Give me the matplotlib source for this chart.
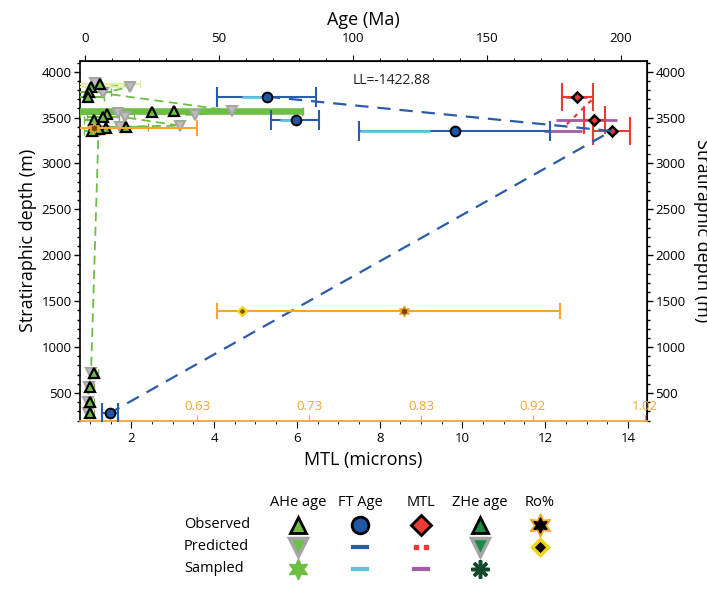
import numpy as np
import matplotlib.pyplot as plt
from matplotlib.ticker import MultipleLocator, FixedLocator

plt.rcParams["font.family"] = ["Open Sans", "DejaVu Sans"]

# ── data ────────────────────────────────────────────────────
# AHe observed ages (Ma) and depths (m)
ahe_obs_age = [5.6, 2.2, 1.6, 1.2, 24.9, 33.3, 8.1, 6.6, 3.4, 15.3, 7.8, 5.0, 2.5, 3.4, 1.9, 1.9, 1.9]
ahe_obs_depth = [3866, 3837, 3782, 3728, 3558, 3575, 3536, 3503, 3474, 3401, 3383, 3372, 3357, 718, 565, 402, 283]
ahe_obs_err = [15, 14, 8, 6, 56, 48, 10, 6, 4, 8, 5, 4, 3, 1.5, 1.5, 1.5, 1.5]
ahe_pale = [True, True, False, False, False, False, False, False, False, False, False, False, False,
            False, False, False, False]
ahe_thick = [False, False, False, False, True, True, False, False, False, False, False, False, False,
             False, False, False, False]

# AHe predicted (profile order)
ahe_pred_age = [3.7, 16.8, 6.6, 54.7, 41.0, 12.4, 14.7, 35.4, 13.0, 5.0, 2.2, 1.3, 1.2, 1.1]
ahe_pred_depth = [3880, 3837, 3765, 3575, 3528, 3555, 3503, 3412, 3401, 3357, 718, 565, 402, 283]

# Fission track ages
ft_obs_age = [67.8, 78.6, 138.0, 9.3]
ft_obs_depth = [3728, 3474, 3354, 283]
ft_err_lo = [18.4, 9.2, 35.6, 3.0]
ft_err_hi = [18.4, 8.8, 35.5, 3.0]
ft_samp_lo = [58.5, 72.8, 102.6]
ft_samp_hi = [67.8, 79.0, 128.7]
ft_samp_depth = [3728, 3474, 3354]
ft_pred_age = [67.8, 196.5, 9.3]
ft_pred_depth = [3728, 3354, 283]

# Mean track length (microns)
mtl_obs = [12.76, 13.19, 13.61]
mtl_depth = [3728, 3474, 3357]
mtl_err_lo = [0.36, 0.25, 0.46]
mtl_err_hi = [0.40, 0.25, 0.44]
mtl_samp_lo = [12.50, 12.26, 11.97]
mtl_samp_hi = [13.00, 13.73, 12.90]
mtl_pred = [13.12, 12.45]
mtl_pred_depth = [3690, 3395]

# Vitrinite reflectance
ro_obs = [0.81, 0.54]
ro_depth = [1393, 3386]
ro_err_lo = [0.163, 0.05]
ro_err_hi = [0.136, 0.09]
ro_pred = [0.669]
ro_pred_depth = [1393]
ro_ticks = [0.63, 0.7275, 0.825, 0.9225, 1.02]
ro_ticklabels = ["0.63", "0.73", "0.83", "0.92", "1.02"]

ll_text = "LL=-1422.88"

# ── colours ─────────────────────────────────────────────────
GREEN = "#6DBE45"
PALE = "#E4EFA6"
GREY = "#A5A5A5"
BLUE = "#1F56A5"
DBLUE = "#2A5CAA"
CYAN = "#5BC6DE"
RED = "#EE3A36"
PURPLE = "#A35DA8"
ORANGE = "#F7A532"
YELLOW = "#F6D313"
ZGREEN = "#1A8A47"
ZDARK = "#12492B"

fig = plt.figure(figsize=(7.07, 5.92), dpi=100)
ax = fig.add_axes([0.1132, 0.2889, 0.8019, 0.6086])   # MTL (bottom) + depth
ax_age = ax.twiny()                                    # Age (top)
ax_ro = ax.twiny()                                     # Ro% (bottom, inside)

ylim = (195, 4120)
ax.set_ylim(*ylim)
ax.set_xlim(0.76, 14.46)
ax_age.set_xlim(-1.9, 209.7)
ax_ro.set_xlim(0.528, 1.022)

# ── AHe ─────────────────────────────────────────────────────
ax_age.plot(ahe_pred_age, ahe_pred_depth, ls=(0, (5, 3)), color=GREEN, lw=1.3, zorder=2)
for a, d, e, pale, thick in zip(ahe_obs_age, ahe_obs_depth, ahe_obs_err, ahe_pale, ahe_thick):
    ax_age.errorbar(a, d, xerr=e, fmt="none", ecolor=PALE if pale else GREEN,
                    elinewidth=4 if thick else 1.5, capsize=3, zorder=3)
ax_age.plot(ahe_pred_age, ahe_pred_depth, ls="none", marker="v", ms=7,
            mfc="#BDBDBD", mec=GREY, mew=1.5, zorder=4)
ax_age.plot(ahe_obs_age, ahe_obs_depth, ls="none", marker="^", ms=7,
            mfc=GREEN, mec="black", mew=1.6, zorder=6)

# ── FT ages ─────────────────────────────────────────────────
ax_age.plot(ft_pred_age, ft_pred_depth, ls=(0, (6, 4)), color=DBLUE, lw=1.6, zorder=3)
ax_age.errorbar(ft_obs_age, ft_obs_depth, xerr=[ft_err_lo, ft_err_hi], fmt="none",
                ecolor=DBLUE, elinewidth=1.5, capsize=7, capthick=1.5, zorder=4)
ax_age.hlines(ft_samp_depth, ft_samp_lo, ft_samp_hi, color=CYAN, lw=2, zorder=5)
ax_age.plot(ft_obs_age, ft_obs_depth, ls="none", marker="o", ms=7,
            mfc=BLUE, mec="black", mew=1.4, zorder=6)

# ── MTL ─────────────────────────────────────────────────────
ax.errorbar(mtl_obs, mtl_depth, xerr=[mtl_err_lo, mtl_err_hi], fmt="none",
            ecolor=RED, elinewidth=1.5, capsize=10, capthick=1.5, zorder=3)
ax.hlines(mtl_depth, mtl_samp_lo, mtl_samp_hi, color=PURPLE, lw=2, zorder=2)
ax.plot(mtl_pred, mtl_pred_depth, ls=(0, (2, 2.5)), color=RED, lw=1.6, zorder=2)
ax.plot(mtl_obs, mtl_depth, ls="none", marker="D", ms=5.5,
        mfc=RED, mec="black", mew=1.8, zorder=6)

# ── Ro% ─────────────────────────────────────────────────────
ax_ro.errorbar(ro_obs, ro_depth, xerr=[ro_err_lo, ro_err_hi], fmt="none",
               ecolor=ORANGE, elinewidth=1.5, capsize=6, capthick=1.5, zorder=3)
ax_ro.plot(ro_obs, ro_depth, ls="none", marker=(6, 1, 0), ms=8, color=ORANGE, zorder=4)
ax_ro.plot(ro_obs, ro_depth, ls="none", marker=(6, 1, 0), ms=4, color="#6B4A10", zorder=5)
ax_ro.plot(ro_pred, ro_pred_depth, ls="none", marker="D", ms=5,
           mfc=YELLOW, mec=YELLOW, zorder=4)
ax_ro.plot(ro_pred, ro_pred_depth, ls="none", marker="D", ms=2,
           mfc="#7A5A00", mec="#7A5A00", zorder=5)

ax_age.text(0.55, 0.945, ll_text, transform=ax_age.transAxes, fontsize=10,
            ha="center", va="center", color="#222222")

# ── axes styling ────────────────────────────────────────────
tk = dict(labelsize=9.5, width=1, pad=2)
ax.yaxis.set_major_locator(MultipleLocator(500))
ax.yaxis.set_minor_locator(MultipleLocator(100))
ax.tick_params(axis="y", which="major", length=4, **tk)
ax.tick_params(axis="y", which="minor", length=2, width=1)
ax.set_ylabel("Stratiraphic depth (m)", fontsize=13, labelpad=3)

ax.xaxis.set_major_locator(MultipleLocator(2))
ax.xaxis.set_minor_locator(MultipleLocator(0.5))
ax.xaxis.tick_bottom()
ax.xaxis.set_label_position("bottom")
ax.tick_params(axis="x", which="major", length=5, labelsize=9.5, pad=3)
ax.tick_params(axis="x", which="minor", length=2.5)
ax.set_xlabel("MTL (microns)", fontsize=13, labelpad=4)

ax_age.xaxis.set_major_locator(MultipleLocator(50))
ax_age.xaxis.set_minor_locator(MultipleLocator(10))
ax_age.xaxis.tick_top()
ax_age.xaxis.set_label_position("top")
ax_age.tick_params(axis="x", which="major", length=4, labelsize=9.5, pad=7)
ax_age.tick_params(axis="x", which="minor", length=2)
ax_age.set_xlabel("Age (Ma)", fontsize=13, labelpad=5)

ax_ro.xaxis.tick_bottom()
ax_ro.xaxis.set_major_locator(FixedLocator(ro_ticks))
ax_ro.set_xticklabels(ro_ticklabels)
ax_ro.tick_params(axis="x", which="major", direction="in", length=4, color=ORANGE,
                  labelcolor=ORANGE, labelsize=9.5, pad=-15)
ax_ro.tick_params(axis="x", which="minor", length=0)

for a in (ax_age, ax_ro):
    for s in a.spines.values():
        s.set_visible(False)
ax_age.spines["top"].set_visible(True)
ax.spines["bottom"].set_color(ORANGE)
ax.spines["bottom"].set_linewidth(1.3)
for s in ("left", "right", "top"):
    ax.spines[s].set_linewidth(1.2)

sec = ax.secondary_yaxis("right")
sec.yaxis.set_major_locator(MultipleLocator(500))
sec.yaxis.set_minor_locator(MultipleLocator(100))
sec.tick_params(axis="y", which="major", length=4, **tk)
sec.tick_params(axis="y", which="minor", length=2, width=1)
fig.text(0.993, 0.611, "Stratiraphic depth (m)", rotation=270, fontsize=13,
         ha="center", va="center")

# ── legend table ────────────────────────────────────────────
leg_cols = ["AHe age", "FT Age", "MTL", "ZHe age", "Ro%"]
leg_rows = ["Observed", "Predicted", "Sampled"]
col_x = [298, 360, 421, 480, 540]
head_y = 502
row_y = [525, 547, 569]

lax = fig.add_axes([0, 0, 1, 0.2])
lax.set_xlim(0, 707)
lax.set_ylim(592, 592 - 0.2 * 592)
lax.axis("off")

for name, x in zip(leg_cols, col_x):
    lax.text(x, head_y, name, ha="center", va="center", fontsize=10.5)
for name, y in zip(leg_rows, row_y):
    lax.text(184, y, name, ha="left", va="center", fontsize=10.5)

def mk(x, y, **kw):
    lax.plot([x], [y], ls="none", **kw)

def dash(x, y, **kw):
    lax.plot([x - 7, x + 7], [y, y], **kw)

# AHe
mk(col_x[0], row_y[0], marker="^", ms=12, mfc=GREEN, mec="black", mew=2)
mk(col_x[0], row_y[1], marker="v", ms=13, mfc=GREEN, mec=GREY, mew=2.5)
mk(col_x[0], row_y[2], marker=(6, 1, 0), ms=15, color=GREEN)
# FT
mk(col_x[1], row_y[0], marker="o", ms=12, mfc=BLUE, mec="black", mew=2)
dash(col_x[1], row_y[1], color=DBLUE, lw=3)
dash(col_x[1], row_y[2], color=CYAN, lw=3)
# MTL
mk(col_x[2] - 5, row_y[1], marker="s", ms=3, color=RED)
mk(col_x[2] + 5, row_y[1], marker="s", ms=3, color=RED)
mk(col_x[2], row_y[0], marker="D", ms=10, mfc=RED, mec="black", mew=2)
dash(col_x[2], row_y[2], color=PURPLE, lw=3)
# ZHe
mk(col_x[3], row_y[0], marker="^", ms=12, mfc=ZGREEN, mec="black", mew=2)
mk(col_x[3], row_y[1], marker="v", ms=13, mfc=ZGREEN, mec=GREY, mew=2.5)
mk(col_x[3], row_y[2], marker=(8, 2, 0), ms=13, color=ZDARK, mew=2.5)
# Ro
mk(col_x[4], row_y[0], marker=(6, 1, 0), ms=17, color=ORANGE)
mk(col_x[4], row_y[0], marker=(6, 1, 0), ms=11, color="black")
mk(col_x[4], row_y[1], marker="D", ms=8, mfc="black", mec=YELLOW, mew=2.5)

fig.savefig("out.png", dpi=100)
